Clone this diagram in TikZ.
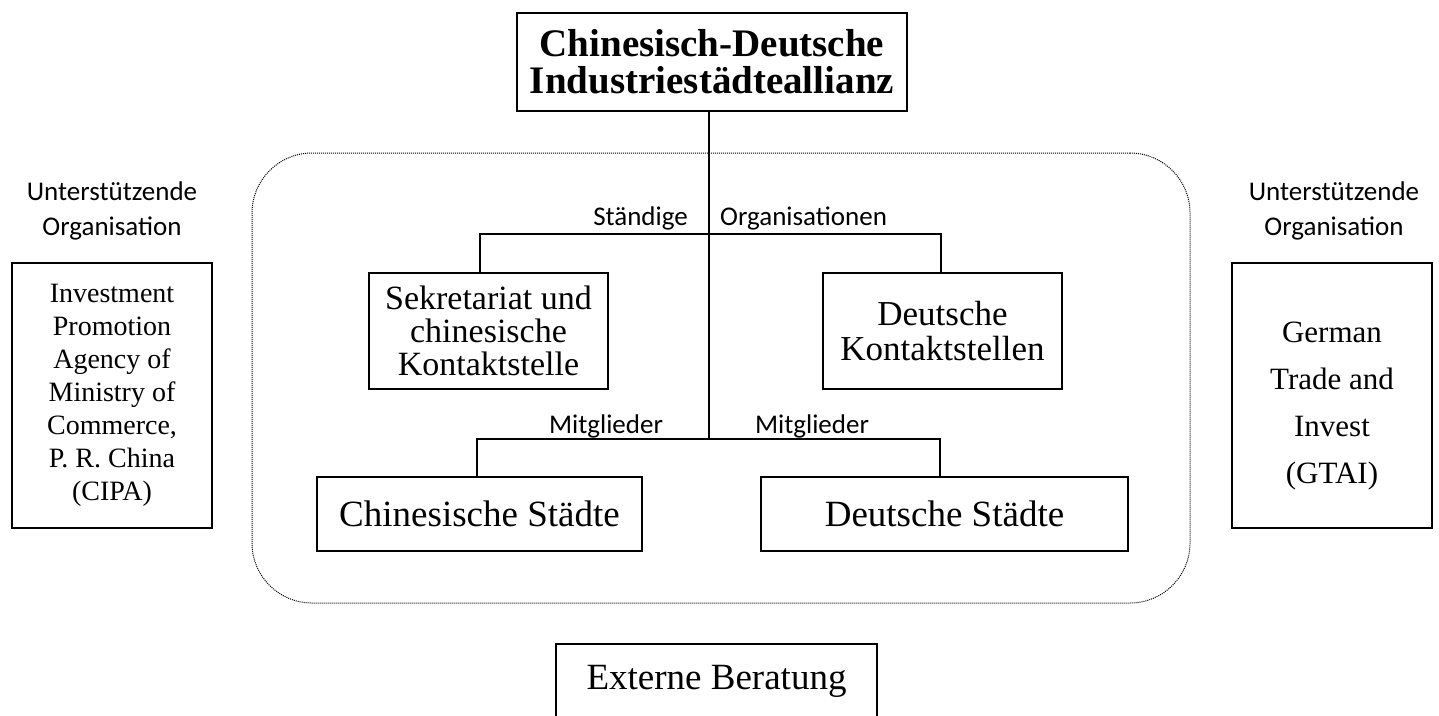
\documentclass[tikz,border=0pt]{standalone}
\usepackage{fontspec}
\setmainfont{Liberation Serif}
\newfontfamily\calib{Carlito}
\begin{document}
\begin{tikzpicture}[x=1pt,y=-1pt,
  boxnode/.style={draw, line width=1.4pt, inner sep=0pt, align=center},
  conn/.style={line width=1.8pt},
  lab/.style={inner sep=0pt, font=\calib\fontsize{27}{32}\selectfont},
  sidelab/.style={inner sep=0pt, align=center, font=\calib\fontsize{27}{35}\selectfont},
  frame/.style={draw, line width=1pt, dash pattern=on 1pt off 1pt, rounded corners=60pt, inner sep=0pt}]
\useasboundingbox (0,0) rectangle (1439,715);

% dotted frame
\node[frame, minimum width=938pt, minimum height=450pt] (frame) at (721,378) {};

% top box
\node[boxnode, minimum width=390pt, minimum height=98pt,
  font=\bfseries\fontsize{39}{37}\selectfont] (top) at (712,62)
  {Chinesisch-Deutsche\\Industriestädteallianz};

% second level
\node[boxnode, minimum width=239pt, minimum height=116pt,
  font=\fontsize{34}{33}\selectfont] (sek) at (488.5,331)
  {Sekretariat und\\chinesische\\Kontaktstelle};
\node[boxnode, minimum width=239pt, minimum height=116pt,
  font=\fontsize{35}{35}\selectfont] (dk) at (942.5,331)
  {Deutsche\\Kontaktstellen};

% third level
\node[boxnode, minimum width=325pt, minimum height=74pt,
  font=\fontsize{37}{44}\selectfont] (cs) at (479.5,514) {Chinesische Städte};
\node[boxnode, minimum width=367pt, minimum height=74pt,
  font=\fontsize{37}{44}\selectfont] (ds) at (944.5,514) {Deutsche Städte};

% external
\node[boxnode, minimum width=321pt, minimum height=74pt,
  font=\fontsize{37}{44}\selectfont] (ext) at (716.5,681) {Externe Beratung};

% side boxes
\node[boxnode, minimum width=200pt, minimum height=265pt,
  font=\fontsize{28}{33}\selectfont] (cipa) at (112,395.5)
  {Investment\\Promotion\\Agency of\\Ministry of\\Commerce,\\P. R. China\\(CIPA)};
\node[boxnode, minimum width=200pt, minimum height=265pt] (gtai) at (1332,395.5) {};
\node[inner sep=0pt, align=center, font=\fontsize{31}{47}\selectfont] (gtaitext) at (1332,406)
  {German\\Trade and\\Invest\\(GTAI)};

% side labels
\node[sidelab, anchor=base] (ul) at (112,235) {Unterstützende\\Organisation};
\node[sidelab, anchor=base] (ur) at (1334,235) {Unterstützende\\Organisation};

% connectors
\coordinate (trunk) at (709,439);
\coordinate (sl) at (480,234);
\coordinate (sr) at (941,234);
\coordinate (ml) at (477,439);
\coordinate (mr) at (940,439);
\draw[conn] (top.south -| trunk) -- (trunk);
\draw[conn] (sek.north -| sl) -- (sl) -- (sr) -- (dk.north -| sr);
\draw[conn] (cs.north -| ml) -- (ml) -- (mr) -- (ds.north -| mr);

% connector labels
\node[lab, anchor=base east] (st) at (688,225) {Ständige};
\node[lab, anchor=base west] (org) at (720,225) {Organisationen};
\node[lab, anchor=base] (m1) at (606,433) {Mitglieder};
\node[lab, anchor=base] (m2) at (812,433) {Mitglieder};
\end{tikzpicture}
\end{document}
